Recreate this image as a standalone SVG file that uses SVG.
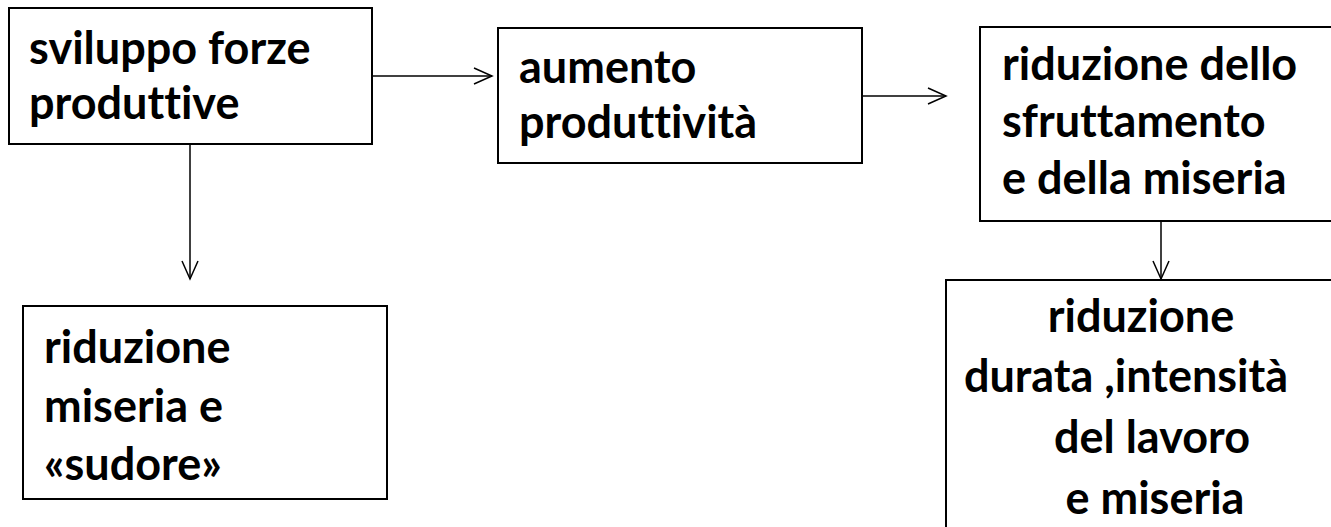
<svg xmlns="http://www.w3.org/2000/svg" width="1331" height="527" viewBox="0 0 1331 527">
<style>
.box{fill:#fff;stroke:#000;stroke-width:2}
.t{font-family:Lato,"Open Sans",sans-serif;font-weight:bold;font-size:45px;fill:#000;font-variant-ligatures:none;font-feature-settings:"liga" 0}
.c{text-anchor:middle}
.conn line{stroke:#000;stroke-width:1.5;fill:none}
</style>
<defs>
<marker id="ah" markerUnits="userSpaceOnUse" markerWidth="22" markerHeight="20" refX="19" refY="9" orient="auto" viewBox="0 0 22 20">
<path d="M1,1 L19,9 L1,17" fill="none" stroke="#000" stroke-width="1.5"/>
</marker>
</defs>
<rect width="1331" height="527" fill="#fff"/>
<g class="conn" id="connectors">
<line x1="372" y1="76" x2="492" y2="76" marker-end="url(#ah)"/>
<line x1="862" y1="96" x2="946" y2="96" marker-end="url(#ah)"/>
<line x1="190" y1="144" x2="190" y2="279" marker-end="url(#ah)"/>
<line x1="1161" y1="221" x2="1161" y2="279" marker-end="url(#ah)"/>
</g>
<g id="n1">
<rect class="box" x="9" y="8" width="363" height="136"/>
<text class="t" x="29" y="64">sviluppo forze</text>
<text class="t" x="29" y="119">produttive</text>
</g>
<g id="n2">
<rect class="box" x="498" y="28" width="364" height="135"/>
<text class="t" x="519" y="83">aumento</text>
<text class="t" x="519" y="138">produttività</text>
</g>
<g id="n3">
<rect class="box" x="980" y="27" width="370" height="194"/>
<text class="t" x="1002" y="80">riduzione dello</text>
<text class="t" x="1002" y="137">sfruttamento</text>
<text class="t" x="1002" y="194">e della miseria</text>
</g>
<g id="n4">
<rect class="box" x="946" y="280" width="410" height="260"/>
<text class="t c" x="1141" y="332">riduzione</text>
<text class="t c" x="1126" y="392">durata ,intensità</text>
<text class="t c" x="1152" y="453">del lavoro</text>
<text class="t c" x="1155" y="514">e miseria</text>
</g>
<g id="n5">
<rect class="box" x="23" y="306" width="364" height="193"/>
<text class="t" x="44" y="363">riduzione</text>
<text class="t" x="44" y="422">miseria e</text>
<text class="t" x="44" y="480">«sudore»</text>
</g>
</svg>
